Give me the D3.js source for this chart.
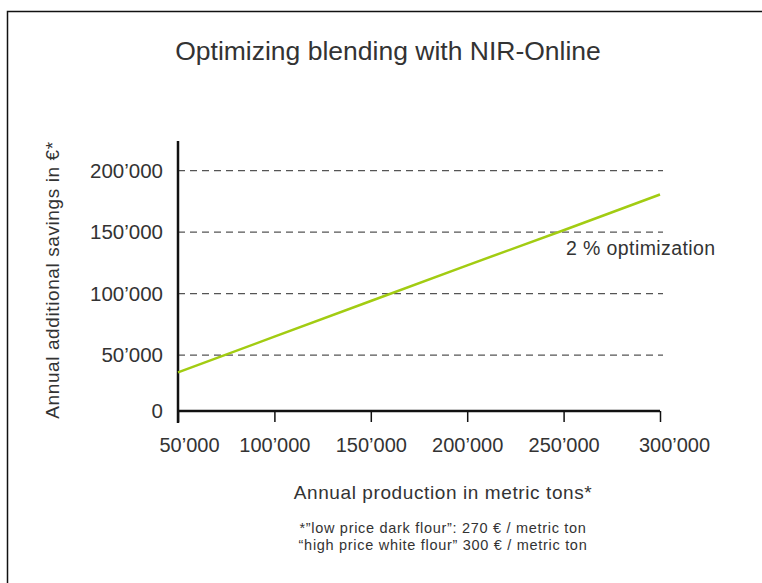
<!DOCTYPE html>
<html>
<head>
<meta charset="utf-8">
<script src="https://cdn.jsdelivr.net/npm/d3@7"></script>
<style>
  body { margin: 0; background: #fff; }
  svg text { font-family: "Liberation Sans", Arial, sans-serif; fill: #333; }
</style>
</head>
<body>
<div id="chart"></div>
<script>
// Optimizing blending with NIR-Online - savings vs. production

const production = [50000, 100000, 150000, 200000, 250000, 300000];
const savings = [36000, 65000, 94000, 123000, 151500, 180500];
const yTicks = [0, 50000, 100000, 150000, 200000];
const xTicks = [50000, 100000, 150000, 200000, 250000, 300000];
const footnotes = [
    "*\u201dlow price dark flour\u201d: 270 \u20ac / metric ton",
    "\u201chigh price white flour\u201d 300 \u20ac / metric ton"
];

const width = 762, height = 583;
const axisY = 411;   // the x axis sits a little above the zero line in the original

const svg = d3.select("#chart")
    .append("svg")
    .attr("width", width)
    .attr("height", height);

// frame (left + top edge only)
svg.append("path")
    .attr("d", `M7.5,${height} V11.5 H${width}`)
    .attr("fill", "none")
    .attr("stroke", "#111")
    .attr("stroke-width", 1.5);

const x = d3.scaleLinear().domain([50000, 300000]).range([178, 660]);
const y = d3.scaleLinear().domain([0, 224000]).range([416.7, 141]);

const fmt = d3.formatLocale({ decimal: ".", thousands: "\u2019", grouping: [3], currency: ["", ""] }).format(",d");

// title
svg.append("text")
    .attr("x", 388)
    .attr("y", 60)
    .attr("text-anchor", "middle")
    .style("font-size", "26.5px")
    .text("Optimizing blending with NIR-Online");

// dashed grid lines
svg.selectAll(".grid")
    .data(yTicks.filter(d => d > 0))
    .enter()
    .append("line")
    .attr("class", "grid")
    .attr("x1", x(50000))
    .attr("x2", 663)
    .attr("y1", d => y(d))
    .attr("y2", d => y(d))
    .attr("stroke", "#555")
    .attr("stroke-width", 1.2)
    .attr("stroke-dasharray", "7,5");

// y axis
const yAxis = svg.append("g")
    .attr("transform", `translate(${x(50000)},0)`)
    .call(d3.axisLeft(y).tickValues(yTicks).tickSize(0).tickPadding(15).tickFormat(fmt));
yAxis.select(".domain")
    .attr("d", `M0,141 V${axisY + 12}`)
    .attr("stroke", "#111")
    .attr("stroke-width", 2.5);
yAxis.selectAll(".tick")
    .filter(d => d === 0)
    .attr("transform", `translate(0,${axisY})`);
yAxis.selectAll("text")
    .style("font-size", "20.5px")
    .style("font-family", "'Liberation Sans', Arial, sans-serif")
    .attr("fill", "#333");

// x axis
const xAxis = svg.append("g")
    .attr("transform", `translate(0,${axisY})`)
    .call(d3.axisBottom(x).tickValues(xTicks).tickSize(11).tickPadding(16).tickFormat(fmt));
xAxis.select(".domain")
    .attr("d", `M${x(50000)},0 H${x(300000)}`)
    .attr("stroke", "#111")
    .attr("stroke-width", 2.5);
xAxis.selectAll(".tick line")
    .attr("stroke", "#111")
    .attr("stroke-width", 1.5);
xAxis.selectAll("text")
    .style("font-size", "20px")
    .style("font-family", "'Liberation Sans', Arial, sans-serif")
    .attr("fill", "#333")
    .attr("dx", (d, i) => i === 0 ? 11 : (i === xTicks.length - 1 ? 14 : 0));

// savings line
svg.append("path")
    .datum(production.map((p, i) => [p, savings[i]]))
    .attr("fill", "none")
    .attr("stroke", "#a2cc12")
    .attr("stroke-width", 2.5)
    .attr("d", d3.line().x(d => x(d[0])).y(d => y(d[1])));

// series label
svg.append("text")
    .attr("x", 566)
    .attr("y", 255)
    .style("font-size", "19.5px")
    .style("letter-spacing", "0.4px")
    .text("2 % optimization");

// axis titles
svg.append("text")
    .attr("transform", "translate(59,280) rotate(-90)")
    .attr("text-anchor", "middle")
    .style("font-size", "19px")
    .style("letter-spacing", "0.6px")
    .text("Annual additional savings in \u20ac*");

svg.append("text")
    .attr("x", 443)
    .attr("y", 499)
    .attr("text-anchor", "middle")
    .style("font-size", "19px")
    .style("letter-spacing", "0.6px")
    .text("Annual production in metric tons*");

svg.selectAll(".foot")
    .data(footnotes)
    .enter()
    .append("text")
    .attr("class", "foot")
    .attr("x", 443)
    .attr("y", (d, i) => 533 + i * 16.5)
    .attr("text-anchor", "middle")
    .style("font-size", "14.5px")
    .style("letter-spacing", "0.7px")
    .text(d => d);
</script>
</body>
</html>
